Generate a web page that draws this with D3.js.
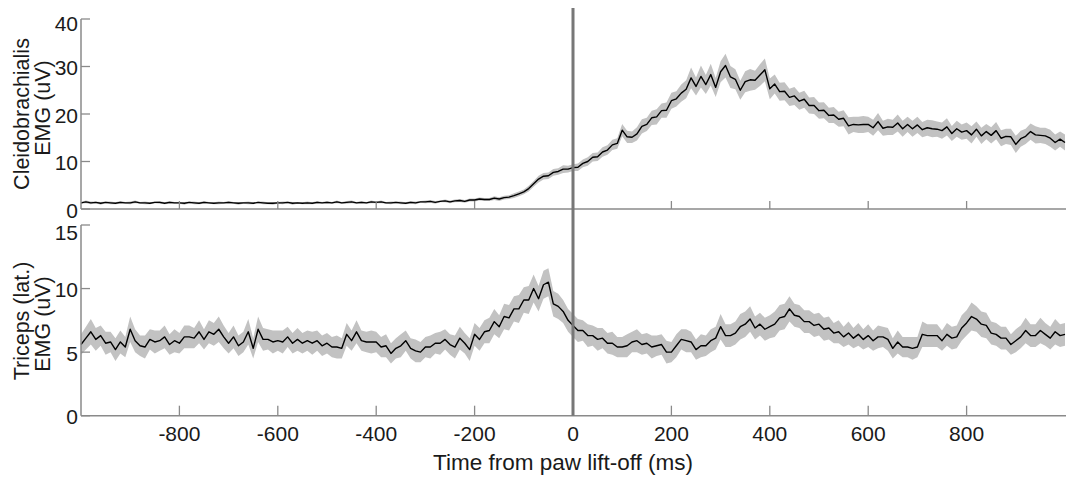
<!DOCTYPE html>
<html>
<head>
<meta charset="utf-8">
<script src="https://cdn.jsdelivr.net/npm/d3@7"></script>
<style>
  body { margin: 0; background: #fff; }
  svg { display: block; font-family: "Liberation Sans", Arial, sans-serif; }
</style>
</head>
<body>
<svg id="chart" width="1066" height="479"></svg>
<script>
// time axis (ms), one sample every 10 ms from -1000 to 1000
var tStart = -1000, tStep = 10;

// Cleidobrachialis mean EMG (uV)
var cleidoMean = [
  1.3,1.5,1.3,1.4,1.2,1.4,1.3,1.2,1.4,1.3,
  1.3,1.5,1.3,1.3,1.2,1.4,1.4,1.2,1.4,1.3,
  1.3,1.2,1.4,1.3,1.2,1.4,1.3,1.2,1.3,1.3,
  1.4,1.3,1.2,1.3,1.3,1.2,1.4,1.3,1.2,1.2,
  1.3,1.3,1.4,1.2,1.3,1.2,1.3,1.2,1.4,1.3,
  1.4,1.3,1.5,1.3,1.4,1.5,1.3,1.4,1.3,1.5,
  1.4,1.5,1.3,1.3,1.4,1.3,1.2,1.4,1.3,1.5,
  1.5,1.6,1.4,1.6,1.7,1.5,1.7,1.8,1.6,1.9,
  1.9,2.1,2.0,2.0,2.3,2.1,2.4,2.5,2.8,3.2,
  3.6,4.3,5.3,6.3,6.9,7.0,7.7,7.9,8.4,8.4,
  8.7,8.8,9.6,10.0,10.9,11.0,12.0,12.4,13.5,13.8,
  16.6,15.2,15.1,15.8,17.4,17.8,19.2,19.4,20.7,20.8,
  22.8,23.2,24.4,25.2,27.6,25.8,27.9,26.2,28.3,25.6,
  28.9,30.2,27.8,27.3,25.0,26.8,27.2,27.1,28.2,29.3,
  25.3,26.3,24.7,24.8,23.5,23.8,22.7,23.1,21.8,21.8,
  20.7,20.8,19.7,19.8,18.9,19.1,17.5,17.8,17.7,17.8,
  17.8,17.1,18.4,17.0,17.3,17.2,18.1,16.9,17.8,16.9,
  17.7,16.7,17.1,16.9,16.8,16.5,17.3,15.9,16.9,16.2,
  16.5,15.6,16.8,15.4,16.3,15.5,16.5,14.9,15.3,15.2,
  13.6,14.8,15.3,16.3,15.6,15.5,15.4,14.9,14.0,14.7,
  14.0
];
// Cleidobrachialis SEM (uV)
var cleidoSem = [
  0.2,0.3,0.3,0.2,0.3,0.2,0.3,0.2,0.3,0.2,
  0.3,0.3,0.2,0.3,0.2,0.2,0.3,0.2,0.3,0.2,
  0.2,0.3,0.2,0.3,0.2,0.3,0.2,0.2,0.3,0.2,
  0.3,0.2,0.3,0.2,0.3,0.2,0.2,0.3,0.2,0.3,
  0.2,0.3,0.2,0.3,0.2,0.2,0.3,0.2,0.3,0.2,
  0.3,0.2,0.3,0.2,0.3,0.3,0.2,0.3,0.2,0.3,
  0.2,0.3,0.2,0.3,0.2,0.3,0.2,0.3,0.3,0.2,
  0.3,0.3,0.3,0.2,0.3,0.3,0.3,0.3,0.3,0.3,
  0.3,0.3,0.3,0.3,0.4,0.4,0.4,0.4,0.5,0.5,
  0.5,0.6,0.6,0.7,0.7,0.7,0.7,0.7,0.8,0.7,
  0.7,0.8,0.8,0.9,0.9,0.9,1.0,1.0,1.1,1.1,
  1.3,1.3,1.2,1.4,1.5,1.4,1.5,1.6,1.5,1.6,
  1.7,1.6,1.8,1.9,2.2,1.9,2.3,2.0,2.3,2.0,
  2.2,2.5,2.3,2.1,2.0,2.2,2.3,2.0,2.3,2.4,
  2.2,2.0,1.9,1.9,1.8,1.9,1.8,1.8,1.7,1.8,
  1.7,1.7,1.6,1.7,1.6,1.7,1.8,1.6,1.7,1.8,
  1.6,1.7,1.8,1.6,1.7,1.6,1.8,1.7,1.6,1.7,
  1.7,1.6,1.7,1.8,1.6,1.7,1.8,1.6,1.7,1.6,
  1.7,1.8,1.6,1.7,1.6,1.7,1.8,1.7,1.6,1.7,
  1.8,1.7,1.6,1.7,1.8,1.6,1.7,1.8,1.7,1.6,
  1.7
];

// Triceps (lat.) mean EMG (uV)
var tricepsMean = [
  5.6,6.1,6.6,6.0,6.3,5.7,5.8,5.2,5.8,5.4,
  6.8,5.9,5.5,5.4,6.0,5.8,5.9,6.2,5.6,5.9,
  5.7,6.2,6.2,6.1,6.6,6.0,6.6,6.4,6.8,6.2,
  5.7,6.2,5.5,5.8,6.6,5.3,6.8,6.0,6.0,5.8,
  5.9,5.8,6.2,5.7,6.0,5.7,5.9,5.7,5.9,5.5,
  5.7,5.4,5.4,5.3,6.4,5.9,6.6,5.9,5.8,5.8,
  5.8,5.4,5.5,4.9,5.3,5.5,5.9,5.3,5.1,5.0,
  5.4,5.4,5.7,5.7,6.0,5.6,5.4,6.1,5.7,5.2,
  6.4,6.0,6.6,6.7,7.4,7.0,7.8,7.7,8.4,8.4,
  9.1,9.1,10.0,9.2,10.3,10.5,8.8,8.6,8.2,7.5,
  7.1,6.7,6.7,6.3,6.3,6.0,6.1,5.7,5.7,5.4,
  5.4,5.5,5.8,5.9,5.6,5.7,5.4,5.5,5.6,5.0,
  5.0,5.5,6.0,5.9,5.8,5.2,5.5,5.5,5.9,6.1,
  7.0,6.3,6.3,6.5,7.0,7.2,7.6,6.9,7.2,6.8,
  7.0,7.2,7.7,7.8,8.4,7.9,7.8,7.4,7.4,7.1,
  7.2,6.8,6.9,6.5,6.6,6.2,6.5,6.1,6.4,6.0,
  6.3,5.9,6.2,6.2,6.0,5.3,5.8,5.4,5.4,5.3,
  5.4,6.4,6.3,6.3,6.3,5.9,6.4,6.1,6.2,6.9,
  7.3,7.8,7.6,7.2,7.1,6.5,6.4,6.1,6.1,5.6,
  5.9,6.2,6.7,6.3,6.3,6.7,6.4,6.1,6.6,6.3,
  6.4
];
// Triceps (lat.) SEM (uV)
var tricepsSem = [
  0.8,0.9,1.0,0.9,0.8,0.9,0.8,0.9,0.9,0.8,
  1.0,0.9,0.8,0.9,0.8,0.9,0.8,0.9,0.8,0.9,
  0.8,0.9,0.9,0.8,0.9,0.8,0.9,0.9,1.0,0.9,
  0.8,0.9,0.8,0.8,1.0,0.8,1.0,0.9,0.8,0.9,
  0.8,0.9,0.8,0.8,0.9,0.8,0.8,0.9,0.8,0.8,
  0.8,0.8,0.9,0.8,0.9,0.8,0.9,0.8,0.8,0.9,
  0.8,0.8,0.9,0.8,0.8,0.9,0.8,0.8,0.9,0.8,
  0.8,0.9,0.8,0.9,0.8,0.8,0.9,0.9,0.8,0.9,
  0.9,0.9,0.9,1.0,1.0,0.9,1.0,1.0,1.0,1.1,
  1.0,1.1,1.1,1.0,1.1,1.1,1.0,1.0,0.9,0.9,
  0.9,0.9,0.8,0.9,0.8,0.9,0.8,0.8,0.9,0.8,
  0.8,0.9,0.8,0.9,0.8,0.8,0.9,0.8,0.8,0.9,
  0.8,0.9,0.8,0.9,0.8,0.8,0.9,0.8,0.9,0.9,
  1.0,0.9,0.9,0.9,1.0,1.0,1.0,0.9,0.9,0.9,
  0.9,1.0,1.0,1.0,1.0,0.9,0.9,0.9,0.9,0.9,
  0.9,0.9,0.9,0.8,0.9,0.8,0.9,0.8,0.9,0.8,
  0.9,0.8,0.9,0.8,0.9,0.8,0.9,0.8,0.8,0.9,
  0.8,1.0,0.9,0.9,0.9,0.8,0.9,0.9,0.9,1.0,
  1.0,1.1,1.0,1.0,1.0,0.9,0.9,0.9,0.9,0.8,
  0.9,0.9,1.0,0.9,0.9,1.0,0.9,0.9,1.0,0.9,
  0.9
];

var xTicks = [-800, -600, -400, -200, 0, 200, 400, 600, 800];
var cleidoTicks = [0, 10, 20, 30, 40];
var tricepsTicks = [0, 5, 10, 15];

var axisColor = "#8a8a8a";
var textColor = "#1a1a1a";
var svg = d3.select("#chart");

var x = d3.scaleLinear().domain([-1000, 1000]).range([81, 1065]);
var yTop = d3.scaleLinear().domain([0, 40]).range([209, 19]);
var yBot = d3.scaleLinear().domain([0, 15]).range([415.7, 225]);

function toRows(mean, sem) {
  return mean.map(function(m, i) {
    return { t: tStart + i * tStep, m: m, s: sem[i] };
  });
}

function drawTrace(rows, y) {
  var band = d3.area()
    .x(function(d) { return x(d.t); })
    .y0(function(d) { return y(d.m - d.s); })
    .y1(function(d) { return y(d.m + d.s); });
  var line = d3.line()
    .x(function(d) { return x(d.t); })
    .y(function(d) { return y(d.m); });

  svg.append("path")
    .attr("d", band(rows))
    .attr("fill", "#c2c2c2");
  svg.append("path")
    .attr("d", line(rows))
    .attr("fill", "none")
    .attr("stroke", "#000")
    .attr("stroke-width", 1.4)
    .attr("stroke-linejoin", "round");
}

function drawPanel(y, yTicks, topShift, tickLen, titleLines, titleYs) {
  // left axis
  svg.append("line")
    .attr("x1", x(-1000)).attr("x2", x(-1000))
    .attr("y1", y.range()[1]).attr("y2", y.range()[0])
    .attr("stroke", axisColor).attr("stroke-width", 1.5);
  // bottom axis
  svg.append("line")
    .attr("x1", x(-1000)).attr("x2", 1066)
    .attr("y1", y(0)).attr("y2", y(0))
    .attr("stroke", axisColor).attr("stroke-width", 1.5);

  svg.selectAll(null).data(yTicks).enter().append("line")
    .attr("x1", x(-1000)).attr("x2", x(-1000) + 9)
    .attr("y1", function(d) { return y(d); })
    .attr("y2", function(d) { return y(d); })
    .attr("stroke", axisColor).attr("stroke-width", 1.3);
  var top = yTicks[yTicks.length - 1];
  svg.selectAll(null).data(yTicks).enter().append("text")
    .attr("x", x(-1000) - 3)
    .attr("y", function(d) { return y(d) + (d === top ? topShift : 1); })
    .attr("dy", "0.36em")
    .attr("text-anchor", "end")
    .attr("font-size", 21)
    .attr("fill", textColor)
    .text(function(d) { return d; });

  svg.selectAll(null).data(xTicks).enter().append("line")
    .attr("x1", function(d) { return x(d); })
    .attr("x2", function(d) { return x(d); })
    .attr("y1", y(0)).attr("y2", y(0) - tickLen)
    .attr("stroke", axisColor).attr("stroke-width", 1.3);

  // y title, two rotated lines
  titleLines.forEach(function(s, i) {
    svg.append("text")
      .attr("transform", "translate(" + (29 + i * 21) + "," + titleYs[i] + ") rotate(-90)")
      .attr("text-anchor", "middle")
      .attr("font-size", 21.5)
      .attr("fill", textColor)
      .text(s);
  });
}

drawTrace(toRows(cleidoMean, cleidoSem), yTop);
drawTrace(toRows(tricepsMean, tricepsSem), yBot);

drawPanel(yTop, cleidoTicks, 4, 8, ["Cleidobrachialis", "EMG (uV)"], [114, 108]);
drawPanel(yBot, tricepsTicks, 7, 10, ["Triceps (lat.)", "EMG (uV)"], [321, 324]);

// x tick labels under the lower panel
svg.selectAll(null).data(xTicks).enter().append("text")
  .attr("x", function(d) { return x(d); })
  .attr("y", 441)
  .attr("text-anchor", "middle")
  .attr("font-size", 21)
  .attr("fill", textColor)
  .text(function(d) { return d; });

svg.append("text")
  .attr("x", 563)
  .attr("y", 470)
  .attr("text-anchor", "middle")
  .attr("font-size", 22.5)
  .attr("fill", textColor)
  .text("Time from paw lift-off (ms)");

// lift-off marker
svg.append("line")
  .attr("x1", x(0)).attr("x2", x(0))
  .attr("y1", 8).attr("y2", yBot(0))
  .attr("stroke", "#777")
  .attr("stroke-width", 3);
</script>
</body>
</html>
